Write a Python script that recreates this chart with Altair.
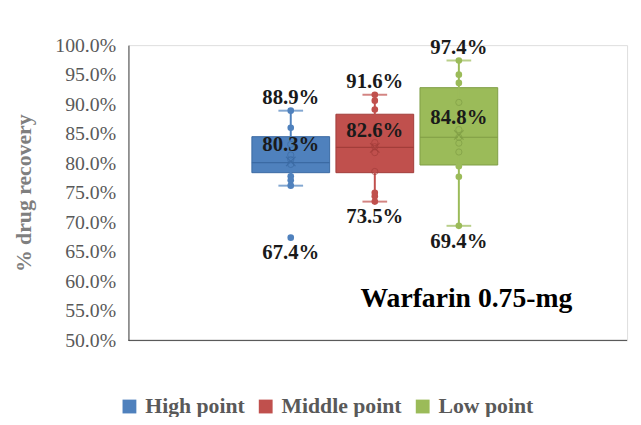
import altair as alt
import pandas as pd

groups = ["High point", "Middle point", "Low point"]
colors = ["#4f81bd", "#c0504d", "#9bbb59"]
dark_colors = ["#3b6aa3", "#a23d3a", "#7f9d45"]

# box statistics (percent)
q1 = [78.4, 78.4, 79.7]
q3 = [84.5, 88.3, 92.8]
median = [80.1, 82.7, 84.4]
mean = [80.3, 82.6, 84.8]
whisker_lo = [76.2, 73.5, 69.4]
whisker_hi = [88.9, 91.6, 97.4]

# individual observations (percent)
high_pts = [88.9, 86.0, 83.2, 81.4, 80.6, 79.8, 77.8, 77.1, 76.2, 67.4]
mid_pts = [91.6, 90.6, 89.1, 83.5, 82.8, 81.8, 78.6, 75.0, 74.4, 73.5]
low_pts = [97.4, 95.0, 93.6, 90.3, 85.7, 84.4, 83.4, 81.9, 79.5, 77.7, 69.4]

# labels shown on the chart
max_labels = ["88.9%", "91.6%", "97.4%"]
min_labels = ["67.4%", "73.5%", "69.4%"]
mean_labels = ["80.3%", "82.6%", "84.8%"]
max_label_vals = [88.9, 91.6, 97.4]
min_label_vals = [67.4, 73.5, 69.4]

stats = pd.DataFrame({
    "group": groups, "q1": q1, "q3": q3, "median": median, "mean": mean,
    "lo": whisker_lo, "hi": whisker_hi, "dark": dark_colors, "col": colors,
    "maxlab": max_labels, "minlab": min_labels, "meanlab": mean_labels,
    "maxv": max_label_vals, "minv": min_label_vals,
})

rows = []
for g, pts, c, d, a, b in zip(groups, [high_pts, mid_pts, low_pts], colors, dark_colors, q1, q3):
    for v in pts:
        rows.append({"group": g, "value": v, "col": c, "dark": d, "inside": a < v < b})
points = pd.DataFrame(rows)

serif = "Liberation Serif"
ymin, ymax = 50, 100
ticks = [50, 55, 60, 65, 70, 75, 80, 85, 90, 95, 100]

x_scale = alt.Scale(domain=groups, range=[125, 374], paddingInner=0.075, paddingOuter=0)
x_enc = alt.X("group:N", sort=groups, scale=x_scale, axis=None)
y_scale = alt.Scale(domain=[ymin, ymax], nice=False, zero=False)
y_axis = alt.Axis(values=ticks, labelExpr="format(datum.value, '.1f') + '%'", grid=False,
                  ticks=False, labelPadding=13, labelFont=serif, labelFontSize=20,
                  labelColor="#595959", domainColor="#404040", labelOverlap=False,
                  labelBound=False,
                  title="% drug recovery", titleFont=serif, titleFontSize=22,
                  titleFontWeight="bold", titleColor="#7f7f7f", titlePadding=20)

base = alt.Chart(stats)
xg = alt.X("group:N", sort=groups)


def yq(field):
    return alt.Y(field, scale=y_scale, axis=y_axis)


boxes = base.mark_bar(strokeWidth=1, opacity=1).encode(
    x=x_enc,
    y=yq("q1:Q"),
    y2="q3:Q",
    fill=alt.Fill("group:N", sort=groups,
                  scale=alt.Scale(domain=groups, range=colors),
                  legend=alt.Legend(title=None, orient="none", direction="horizontal",
                                    legendX=-10, legendY=355, padding=0,
                                    symbolType="square", symbolSize=196,
                                    symbolStrokeWidth=0, labelFont=serif,
                                    labelFontSize=22, labelFontWeight="bold",
                                    labelColor="#595959", labelOffset=5,
                                    columnPadding=10)),
    stroke=alt.Stroke("dark:N", scale=None),
)

x_axis_line = alt.Chart(pd.DataFrame({"v": [ymin]})).mark_rule(
    color="#404040", strokeWidth=1).encode(
    x=alt.value(0), x2=alt.value(505), y=yq("v:Q"))

whiskers = base.mark_rule(strokeWidth=2).encode(
    x=xg, y=yq("lo:Q"), y2="hi:Q",
    color=alt.Color("col:N", scale=None),
)

caps_hi = base.mark_tick(size=25, thickness=2).encode(
    x=xg, y=yq("hi:Q"), color=alt.Color("col:N", scale=None))
caps_lo = base.mark_tick(size=25, thickness=2).encode(
    x=xg, y=yq("lo:Q"), color=alt.Color("col:N", scale=None))

median_line = base.mark_rule(strokeWidth=1.2).encode(
    x=alt.X("group:N", sort=groups, bandPosition=0),
    x2=alt.X2("group:N", bandPosition=1),
    y=yq("median:Q"),
    color=alt.Color("dark:N", scale=None),
)

outer_pts = alt.Chart(points).transform_filter("!datum.inside").mark_circle(size=45, opacity=1).encode(
    x=xg, y=yq("value:Q"), color=alt.Color("col:N", scale=None))
inner_pts = alt.Chart(points).transform_filter("datum.inside").mark_point(
    size=40, filled=False, strokeWidth=1, opacity=0.7).encode(
    x=xg, y=yq("value:Q"), color=alt.Color("dark:N", scale=None))

mean_mark = base.mark_point(shape="M-1,-1L1,1M-1,1L1,-1", size=90, filled=False,
                            strokeWidth=1.2, opacity=0.8).encode(
    x=xg, y=yq("mean:Q"), color=alt.Color("dark:N", scale=None))

lab_style = dict(font=serif, fontSize=21, fontWeight="bold", color="#1a1a1a")
max_text = base.mark_text(baseline="bottom", dy=-3, **lab_style).encode(
    x=xg, y=yq("maxv:Q"), text="maxlab:N")
min_text = base.mark_text(baseline="top", dy=5, **lab_style).encode(
    x=xg, y=yq("minv:Q"), text="minlab:N")
mean_text = base.mark_text(baseline="middle", dy=-17, **lab_style).encode(
    x=xg, y=yq("mean:Q"), text="meanlab:N")

title_text = alt.Chart(pd.DataFrame({"t": ["Warfarin 0.75-mg"]})).mark_text(
    align="left", baseline="middle", font=serif, fontSize=28, fontWeight="bold",
    color="#000000").encode(x=alt.value(235), y=alt.value(257), text="t:N")

chart = alt.layer(
    boxes, x_axis_line, median_line, whiskers, caps_hi, caps_lo, inner_pts, outer_pts,
    mean_mark, max_text, min_text, mean_text, title_text,
).properties(
    width=505, height=299,
    autosize=alt.AutoSizeParams(type="none"),
    padding={"left": 122, "top": 35, "right": 6, "bottom": 75},
).configure_view(stroke=None).configure_axisY(labelOverlap=False).configure(background="white")

chart.save("out.html", embed_options={"renderer": "svg", "actions": False})
